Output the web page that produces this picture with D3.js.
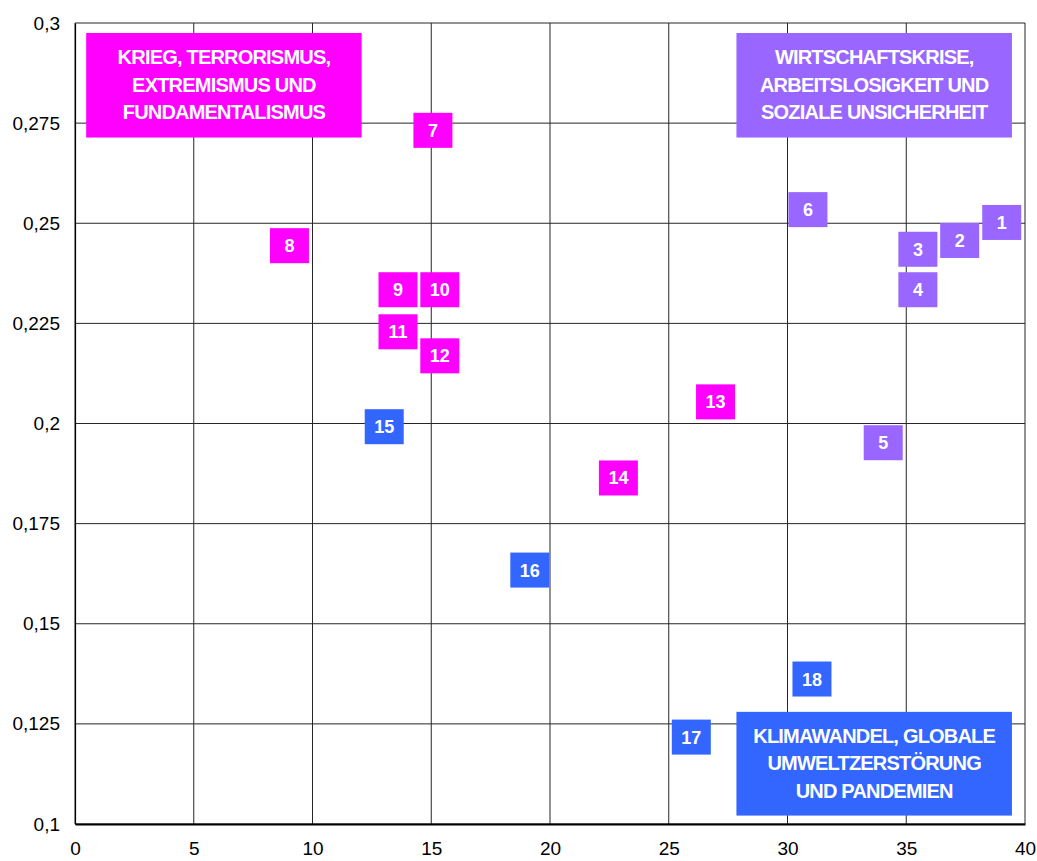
<!DOCTYPE html>
<html>
<head>
<meta charset="utf-8">
<script src="https://cdn.jsdelivr.net/npm/d3@7"></script>
<style>
  body { margin: 0; background: #fff; }
  svg { display: block; }
  text { font-family: "Liberation Sans", Arial, sans-serif; }
</style>
</head>
<body>
<svg id="chart" width="1037" height="861"></svg>
<script>
// values
var ids = [1, 2, 3, 4, 5, 6, 7, 8, 9, 10, 11, 12, 13, 14, 15, 16, 17, 18];
var xVals = [39.02, 37.25, 35.49, 35.49, 34.03, 30.86, 15.07, 9.03, 13.6, 15.36, 13.6, 15.36, 26.97, 22.88, 13.02, 19.15, 25.95, 31.03];
var yVals = [0.2502, 0.2457, 0.2435, 0.2334, 0.1952, 0.2534, 0.2732, 0.2444, 0.2334, 0.2334, 0.2229, 0.2169, 0.2054, 0.1864, 0.1992, 0.1634, 0.1217, 0.1362];
var groups = ["wirtschaft", "wirtschaft", "wirtschaft", "wirtschaft", "wirtschaft", "wirtschaft",
              "krieg", "krieg", "krieg", "krieg", "krieg", "krieg", "krieg", "krieg",
              "klima", "klima", "klima", "klima"];

var xTicks = [0, 5, 10, 15, 20, 25, 30, 35, 40];
var yTicks = [0.1, 0.125, 0.15, 0.175, 0.2, 0.225, 0.25, 0.275, 0.3];

var categories = ["krieg", "wirtschaft", "klima"];
var categoryLines = [
    ["KRIEG, TERRORISMUS,", "EXTREMISMUS UND", "FUNDAMENTALISMUS"],
    ["WIRTSCHAFTSKRISE,", "ARBEITSLOSIGKEIT UND", "SOZIALE UNSICHERHEIT"],
    ["KLIMAWANDEL, GLOBALE", "UMWELTZERSTÖRUNG", "UND PANDEMIEN"]
];
// box corners in data units [x0, x1, yTop, yBottom]
var categoryBoxes = [
    [0.47, 12.07, 0.2975, 0.2714],
    [27.85, 39.45, 0.2975, 0.2714],
    [27.85, 39.45, 0.128, 0.1021]
];
var colors = { krieg: "#ff00ff", wirtschaft: "#9966ff", klima: "#3366ff" };

var svg = d3.select("#chart");
var x = d3.scaleLinear().domain([0, 40]).range([75, 1025]);
var y = d3.scaleLinear().domain([0.1, 0.3]).range([824, 23]);

// grid
svg.append("g")
    .selectAll("line")
    .data(xTicks)
    .enter()
    .append("line")
    .attr("x1", function (d) { return x(d) })
    .attr("x2", function (d) { return x(d) })
    .attr("y1", y(0.3))
    .attr("y2", y(0.1))
    .attr("stroke", "#262626")
    .attr("stroke-width", 1);
svg.append("g")
    .selectAll("line")
    .data(yTicks)
    .enter()
    .append("line")
    .attr("x1", x(0))
    .attr("x2", x(40))
    .attr("y1", function (d) { return y(d) })
    .attr("y2", function (d) { return y(d) })
    .attr("stroke", "#262626")
    .attr("stroke-width", 1);

// axes
var xAxis = svg.append("g")
    .attr("transform", "translate(0," + y(0.1) + ")")
    .call(d3.axisBottom(x).tickValues(xTicks).tickSize(0).tickPadding(18));
xAxis.select(".domain").attr("stroke", "#000").attr("stroke-width", 1.8);
xAxis.selectAll("text").attr("font-size", 19).attr("fill", "#000");

var yAxis = svg.append("g")
    .attr("transform", "translate(" + x(0) + ",0)")
    .call(d3.axisLeft(y).tickValues(yTicks).tickSize(0).tickPadding(15)
        .tickFormat(function (d) { return String(d).replace(".", ",") }));
yAxis.select(".domain").attr("stroke", "#000").attr("stroke-width", 1.2);
yAxis.selectAll("text").attr("font-size", 19).attr("fill", "#000");

// category boxes
var cat = svg.append("g")
    .selectAll("g")
    .data(categories)
    .enter()
    .append("g");
cat.append("rect")
    .attr("x", function (d, i) { return x(categoryBoxes[i][0]) })
    .attr("y", function (d, i) { return y(categoryBoxes[i][2]) })
    .attr("width", function (d, i) { return x(categoryBoxes[i][1]) - x(categoryBoxes[i][0]) })
    .attr("height", function (d, i) { return y(categoryBoxes[i][3]) - y(categoryBoxes[i][2]) })
    .attr("fill", function (d) { return colors[d] });
cat.each(function (d, i) {
    var b = categoryBoxes[i];
    var cx = (x(b[0]) + x(b[1])) / 2;
    var top = y(b[2]);
    d3.select(this).selectAll("text")
        .data(categoryLines[i])
        .enter()
        .append("text")
        .attr("x", cx)
        .attr("y", function (t, j) { return top + 31 + j * 27.5 })
        .attr("text-anchor", "middle")
        .attr("fill", "#fff")
        .attr("font-weight", "bold")
        .attr("font-size", 20)
        .attr("letter-spacing", -0.8)
        .text(function (t) { return t });
});

// numbered markers
var pts = svg.append("g")
    .selectAll("g")
    .data(ids)
    .enter()
    .append("g")
    .attr("transform", function (d, i) { return "translate(" + x(xVals[i]) + "," + y(yVals[i]) + ")" });
pts.append("rect")
    .attr("x", -19.5)
    .attr("y", -17.5)
    .attr("width", 39)
    .attr("height", 35)
    .attr("fill", function (d, i) { return colors[groups[i]] });
pts.append("text")
    .attr("text-anchor", "middle")
    .attr("dy", "0.36em")
    .attr("fill", "#fff")
    .attr("font-weight", "bold")
    .attr("font-size", 18)
    .text(function (d) { return d });
</script>
</body>
</html>
